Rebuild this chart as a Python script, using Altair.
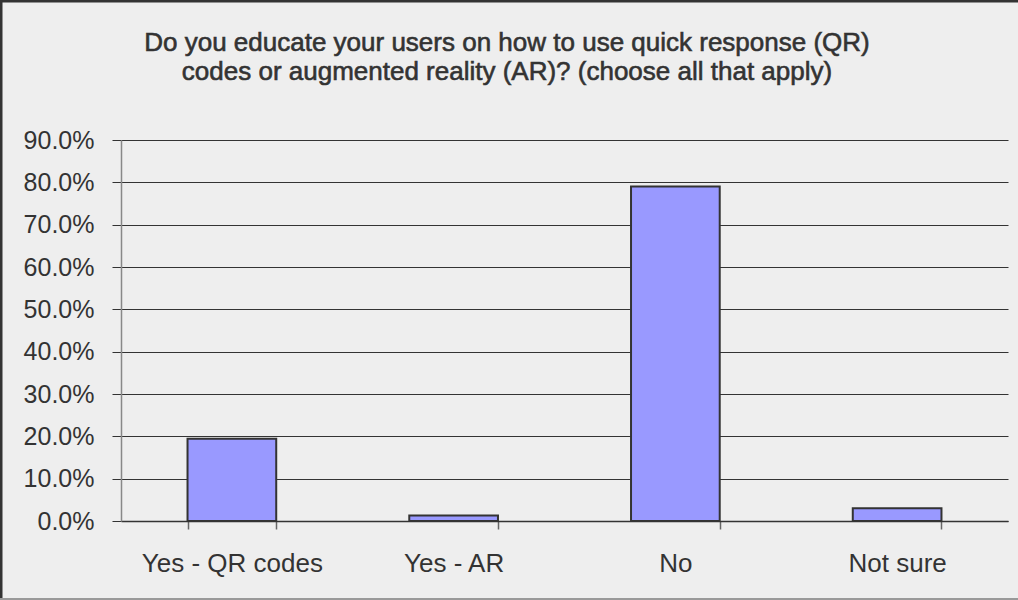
import altair as alt
import pandas as pd

# Survey answers and share of respondents
answers = ["Yes - QR codes", "Yes - AR", "No", "Not sure"]
shares = [0.194, 0.013, 0.790, 0.030]
y_ticks = [0.0, 0.1, 0.2, 0.3, 0.4, 0.5, 0.6, 0.7, 0.8, 0.9]
title_lines = [
    "Do you educate your users on how to use quick response (QR)",
    "codes or augmented reality (AR)? (choose all that apply)",
]

df = pd.DataFrame({"answer": answers, "share": shares})
one = pd.DataFrame({"k": [0]})

FONT = "Liberation Sans"
TEXT = "#333333"
BG = "#eeeeee"

PLOT_W, PLOT_H = 887, 381
PAD_L, PAD_T, PAD_R, PAD_B = 121, 140, 10, 79
CANVAS_W = PAD_L + PLOT_W + PAD_R

bars = alt.Chart(df).mark_bar(
    color="#9999ff", stroke="#333333", strokeWidth=2
).encode(
    x=alt.X(
        "answer:N",
        sort=answers,
        title=None,
        scale=alt.Scale(paddingInner=0.6, paddingOuter=0.3),
        axis=alt.Axis(
            labelAngle=0,
            labelFont=FONT,
            labelFontSize=26,
            labelColor=TEXT,
            labelPadding=21,
            labelLimit=400,
            tickBand="extent",
            tickSize=8,
            tickColor="#666666",
            tickWidth=1.5,
            domainColor="#333333",
            domainWidth=1.5,
            grid=False,
        ),
    ),
    y=alt.Y(
        "share:Q",
        title=None,
        scale=alt.Scale(domain=[0, 0.9], nice=False),
        axis=alt.Axis(
            values=y_ticks,
            format=".1%",
            labelFont=FONT,
            labelFontSize=25,
            labelColor=TEXT,
            labelPadding=18,
            tickSize=9,
            tickColor="#333333",
            domainColor="#888888",
            domainWidth=1.5,
            grid=True,
            gridColor="#333333",
            gridWidth=1,
        ),
    ),
)

# Two-line heading, centred on the whole canvas, slightly heavier than body text
heading = alt.Chart(one).mark_text(
    text=title_lines,
    font=FONT,
    fontSize=26,
    color=TEXT,
    stroke=TEXT,
    strokeWidth=0.6,
    align="center",
    baseline="top",
    lineHeight=29,
).encode(
    x=alt.value(CANVAS_W / 2 - PAD_L - 2),
    y=alt.value(30 - PAD_T),
)

# Outer frame of the chart canvas
frame_top = alt.Chart(one).mark_rule(color="#333333", strokeWidth=3).encode(
    x=alt.value(-PAD_L), x2=alt.value(PLOT_W + PAD_R), y=alt.value(-PAD_T + 1)
)
frame_left = alt.Chart(one).mark_rule(color="#333333", strokeWidth=3).encode(
    x=alt.value(-PAD_L + 1), y=alt.value(-PAD_T), y2=alt.value(PLOT_H + PAD_B)
)
frame_bottom = alt.Chart(one).mark_rule(color="#999999", strokeWidth=2).encode(
    x=alt.value(-PAD_L), x2=alt.value(PLOT_W + PAD_R), y=alt.value(PLOT_H + PAD_B - 1)
)

chart = alt.layer(bars, heading, frame_top, frame_left, frame_bottom).properties(
    width=PLOT_W,
    height=PLOT_H,
    autosize=alt.AutoSizeParams(type="none"),
    padding={"left": PAD_L, "top": PAD_T, "right": PAD_R, "bottom": PAD_B},
    background=BG,
).configure_view(stroke=None)

chart.save("out.html", embed_options={"renderer": "svg", "actions": False})
